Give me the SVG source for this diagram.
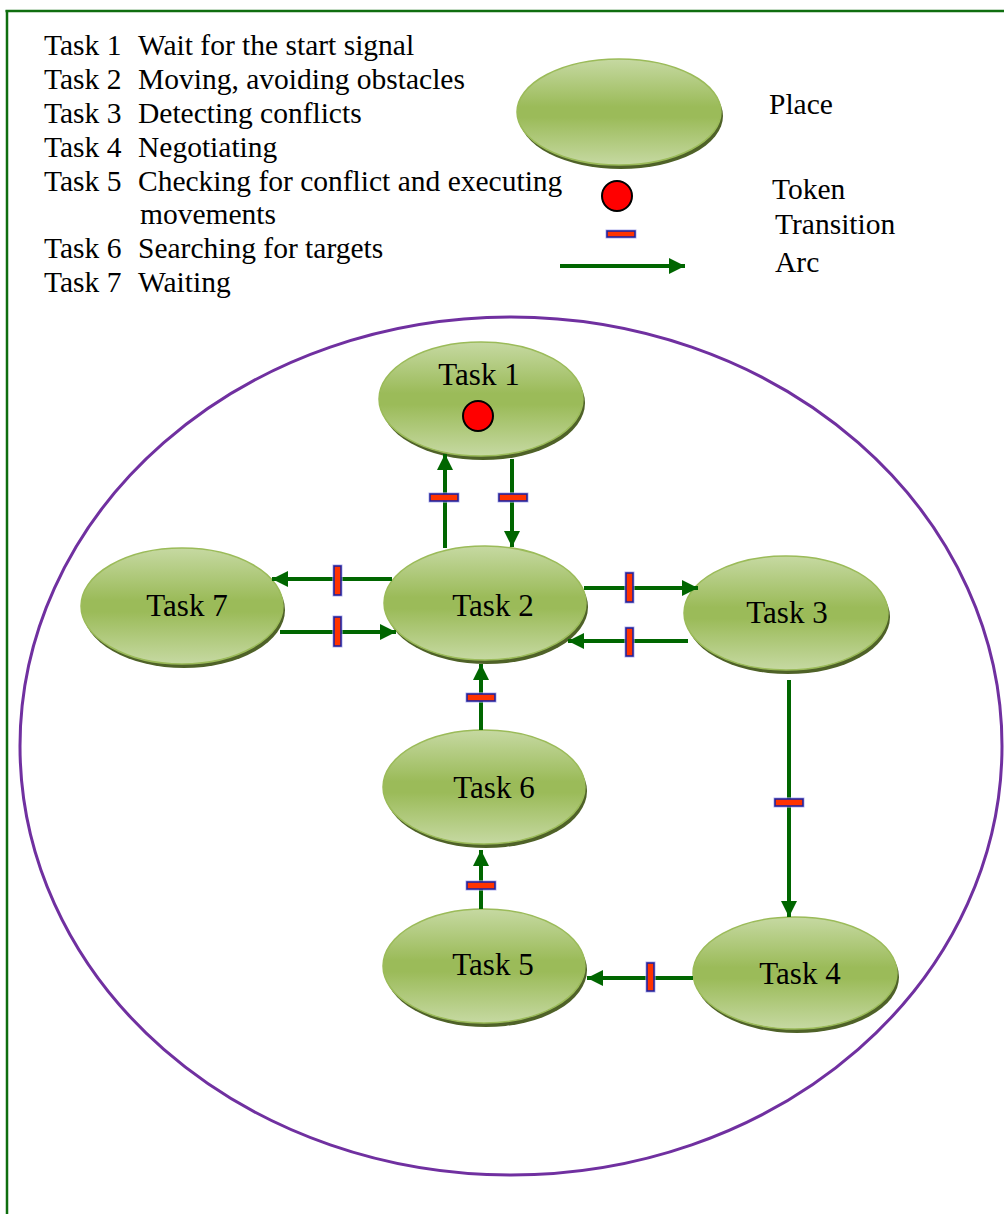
<svg xmlns="http://www.w3.org/2000/svg" width="1004" height="1214" viewBox="0 0 1004 1214">
  <style>
    text { font-family: "Liberation Serif", "Times New Roman", serif; fill: #000; }
    .legend { font-size: 29.5px; }
    .label { font-size: 31px; text-anchor: middle; }
    .shadow { fill: #4f6228; }
    .body { fill: url(#placeFill); stroke: #9bbb59; stroke-width: 1.5; }
    .token { fill: #ff0000; stroke: #000; stroke-width: 2; }
    .arc { stroke: #006600; stroke-width: 4; fill: none; marker-end: url(#head); }
    .trans { fill: #ff3300; stroke: #22229e; stroke-width: 1.6; }
    .glow { fill: none; stroke: #b4b4ee; stroke-width: 1; }
  </style>
  <defs>
    <linearGradient id="placeFill" x1="0" y1="0" x2="0" y2="1">
      <stop offset="0" stop-color="#c6d9a2"/>
      <stop offset="0.45" stop-color="#9bbb59"/>
      <stop offset="0.55" stop-color="#9bbb59"/>
      <stop offset="1" stop-color="#c6d9a2"/>
    </linearGradient>
    <marker id="head" viewBox="0 0 16 16" markerWidth="16" markerHeight="16" refX="16" refY="8" orient="auto" markerUnits="userSpaceOnUse">
      <path d="M0,0 L16,8 L0,16 z" fill="#006600"/>
    </marker>
  </defs>

  <rect width="1004" height="1214" fill="#fff"/>

  <!-- frame -->
  <g id="frame" stroke="#0f6e0f" stroke-width="2.5" fill="none">
    <line x1="5.5" y1="11" x2="1004" y2="11"/>
    <line x1="7" y1="10" x2="7" y2="1214"/>
  </g>

  <!-- task list -->
  <g id="task-list" class="legend">
    <text x="44" y="55">Task 1</text><text x="138" y="55">Wait for the start signal</text>
    <text x="44" y="89">Task 2</text><text x="138" y="89">Moving, avoiding obstacles</text>
    <text x="44" y="123">Task 3</text><text x="138" y="123">Detecting conflicts</text>
    <text x="44" y="157">Task 4</text><text x="138" y="157">Negotiating</text>
    <text x="44" y="191">Task 5</text><text x="138" y="191">Checking for conflict and executing</text>
    <text x="140" y="224">movements</text>
    <text x="44" y="258">Task 6</text><text x="138" y="258">Searching for targets</text>
    <text x="44" y="292">Task 7</text><text x="138" y="292">Waiting</text>
  </g>

  <!-- key -->
  <g id="key">
    <ellipse class="shadow" cx="621" cy="116" rx="102" ry="53"/>
    <ellipse class="body" cx="619" cy="112" rx="102" ry="53"/>
    <circle class="token" cx="617" cy="196" r="15"/>
    <rect class="glow" x="606" y="230" width="30" height="8"/>
    <rect class="trans" x="607" y="231" width="28" height="6"/>
    <line class="arc" x1="560" y1="266" x2="685" y2="266"/>
    <g class="legend">
      <text x="769" y="114">Place</text>
      <text x="772" y="199">Token</text>
      <text x="775" y="234">Transition</text>
      <text x="775" y="272">Arc</text>
    </g>
  </g>

  <!-- system boundary -->
  <ellipse id="boundary" cx="511" cy="746" rx="491" ry="429" fill="none" stroke="#7030a0" stroke-width="3"/>

  <!-- places -->
  <g id="task1">
    <ellipse class="shadow" cx="483" cy="403" rx="102" ry="57"/>
    <ellipse class="body" cx="481" cy="399" rx="102" ry="57"/>
    <text class="label" x="479" y="385">Task 1</text>
    <circle class="token" cx="478" cy="416" r="15"/>
  </g>
  <g id="task2">
    <ellipse class="shadow" cx="487" cy="607" rx="101" ry="57"/>
    <ellipse class="body" cx="485" cy="603" rx="101" ry="57"/>
    <text class="label" x="493" y="616">Task 2</text>
  </g>
  <g id="task3">
    <ellipse class="shadow" cx="788" cy="617" rx="102" ry="57"/>
    <ellipse class="body" cx="786" cy="613" rx="102" ry="57"/>
    <text class="label" x="787" y="623">Task 3</text>
  </g>
  <g id="task4">
    <ellipse class="shadow" cx="797" cy="977" rx="102" ry="56"/>
    <ellipse class="body" cx="795" cy="973" rx="102" ry="56"/>
    <text class="label" x="800" y="984">Task 4</text>
  </g>
  <g id="task5">
    <ellipse class="shadow" cx="486" cy="970" rx="101" ry="57"/>
    <ellipse class="body" cx="484" cy="966" rx="101" ry="57"/>
    <text class="label" x="493" y="975">Task 5</text>
  </g>
  <g id="task6">
    <ellipse class="shadow" cx="486" cy="791" rx="101" ry="57"/>
    <ellipse class="body" cx="484" cy="787" rx="101" ry="57"/>
    <text class="label" x="494" y="798">Task 6</text>
  </g>
  <g id="task7">
    <ellipse class="shadow" cx="184" cy="610" rx="101" ry="58"/>
    <ellipse class="body" cx="182" cy="606" rx="101" ry="58"/>
    <text class="label" x="187" y="616">Task 7</text>
  </g>

  <!-- arcs with their transitions -->
  <g id="connectors">
    <!-- Task 2 -> Task 1 -->
    <line class="arc" x1="445" y1="548" x2="445" y2="454"/>
    <rect class="glow" x="429" y="493" width="30" height="9"/>
    <rect class="trans" x="430" y="494" width="28" height="7"/>
    <!-- Task 1 -> Task 2 -->
    <line class="arc" x1="512" y1="459" x2="512" y2="547"/>
    <rect class="glow" x="498" y="493" width="30" height="9"/>
    <rect class="trans" x="499" y="494" width="28" height="7"/>
    <!-- Task 2 -> Task 7 -->
    <line class="arc" x1="392" y1="579" x2="272" y2="579"/>
    <rect class="glow" x="333" y="565" width="9" height="31"/>
    <rect class="trans" x="334" y="566" width="7" height="29"/>
    <!-- Task 7 -> Task 2 -->
    <line class="arc" x1="280" y1="632" x2="396" y2="632"/>
    <rect class="glow" x="333" y="616" width="9" height="31"/>
    <rect class="trans" x="334" y="617" width="7" height="29"/>
    <!-- Task 2 -> Task 3 -->
    <line class="arc" x1="584" y1="588" x2="698" y2="588"/>
    <rect class="glow" x="625" y="572" width="9" height="31"/>
    <rect class="trans" x="626" y="573" width="7" height="29"/>
    <!-- Task 3 -> Task 2 -->
    <line class="arc" x1="688" y1="641" x2="568" y2="641"/>
    <rect class="glow" x="625" y="627" width="9" height="30"/>
    <rect class="trans" x="626" y="628" width="7" height="28"/>
    <!-- Task 3 -> Task 4 -->
    <line class="arc" x1="789" y1="680" x2="789" y2="917"/>
    <rect class="glow" x="774" y="798" width="30" height="9"/>
    <rect class="trans" x="775" y="799" width="28" height="7"/>
    <!-- Task 4 -> Task 5 -->
    <line class="arc" x1="693" y1="978" x2="587" y2="978"/>
    <rect class="glow" x="646" y="962" width="9" height="30"/>
    <rect class="trans" x="647" y="963" width="7" height="28"/>
    <!-- Task 5 -> Task 6 -->
    <line class="arc" x1="481" y1="909" x2="481" y2="850"/>
    <rect class="glow" x="466" y="881" width="30" height="9"/>
    <rect class="trans" x="467" y="882" width="28" height="7"/>
    <!-- Task 6 -> Task 2 -->
    <line class="arc" x1="481" y1="730" x2="481" y2="664"/>
    <rect class="glow" x="466" y="693" width="30" height="9"/>
    <rect class="trans" x="467" y="694" width="28" height="7"/>
  </g>
</svg>
